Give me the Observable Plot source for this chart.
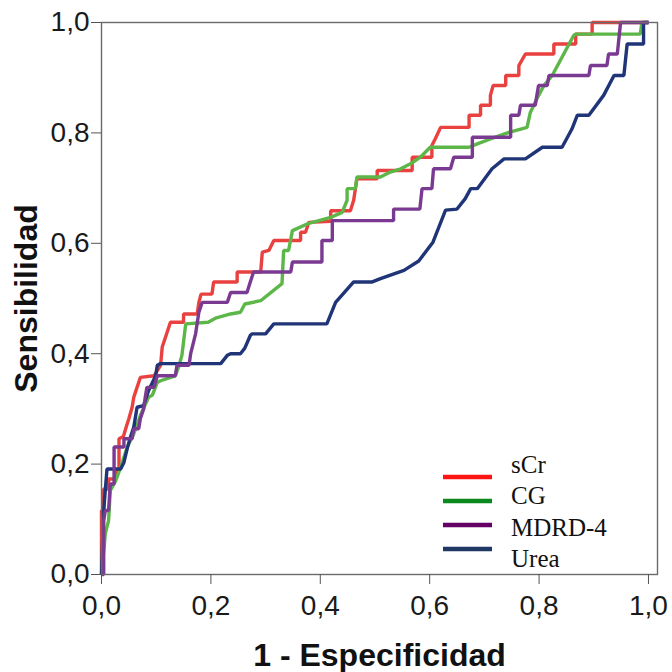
<!DOCTYPE html>
<html>
<head>
<meta charset="utf-8">
<script src="https://cdn.jsdelivr.net/npm/d3@7"></script>
<script src="https://cdn.jsdelivr.net/npm/@observablehq/plot@0.6"></script>
<style>
  html, body { margin: 0; padding: 0; background: #fff; }
  #wrap { position: relative; width: 672px; height: 672px; }
  #legend { position: absolute; left: 0; top: 0; pointer-events: none; }
</style>
</head>
<body>
<div id="wrap"></div>
<script>
// ----- data (1 - especificidad, sensibilidad) -----
const seriesNames = ["sCr", "CG", "MDRD-4", "Urea"];
const curveColors = ["#e8413f", "#5cb648", "#7a3a92", "#1f3577"];
const legendColors = ["#ff1414", "#0a8a1e", "#660066", "#1f3864"];
const xTicks = [0, 0.2, 0.4, 0.6, 0.8, 1.0];
const yTicks = [0, 0.2, 0.4, 0.6, 0.8, 1.0];
const xTitle = "1 - Especificidad";
const yTitle = "Sensibilidad";

const sCr = [[0,0],[0,0.116],[0.004,0.116],[0.004,0.155],[0.013,0.155],[0.013,0.173],[0.026,0.173],[0.026,0.188],[0.032,0.188],[0.032,0.246],[0.040,0.250],[0.046,0.270],[0.050,0.282],[0.056,0.303],[0.059,0.321],[0.065,0.339],[0.071,0.357],[0.096,0.360],[0.108,0.379],[0.111,0.412],[0.120,0.439],[0.126,0.457],[0.150,0.457],[0.150,0.472],[0.175,0.472],[0.178,0.493],[0.182,0.508],[0.202,0.508],[0.205,0.530],[0.248,0.530],[0.248,0.548],[0.291,0.548],[0.294,0.584],[0.306,0.587],[0.315,0.605],[0.364,0.605],[0.364,0.620],[0.373,0.620],[0.379,0.638],[0.419,0.640],[0.419,0.659],[0.455,0.659],[0.461,0.678],[0.467,0.717],[0.504,0.717],[0.504,0.732],[0.568,0.732],[0.568,0.756],[0.604,0.756],[0.604,0.777],[0.610,0.789],[0.620,0.810],[0.672,0.810],[0.672,0.832],[0.693,0.832],[0.693,0.850],[0.711,0.850],[0.711,0.868],[0.716,0.886],[0.739,0.886],[0.739,0.904],[0.763,0.904],[0.763,0.922],[0.775,0.943],[0.827,0.943],[0.827,0.961],[0.867,0.961],[0.867,0.979],[0.897,0.979],[0.897,1.0],[1,1]];

const CG = [[0,0],[0.007,0.074],[0.013,0.098],[0.016,0.152],[0.026,0.170],[0.035,0.194],[0.047,0.231],[0.059,0.255],[0.071,0.288],[0.086,0.321],[0.093,0.325],[0.102,0.348],[0.108,0.351],[0.135,0.360],[0.141,0.376],[0.147,0.397],[0.154,0.454],[0.195,0.457],[0.210,0.465],[0.236,0.472],[0.254,0.475],[0.262,0.490],[0.291,0.496],[0.330,0.527],[0.333,0.587],[0.342,0.587],[0.349,0.623],[0.376,0.635],[0.419,0.647],[0.440,0.656],[0.449,0.678],[0.449,0.699],[0.464,0.699],[0.467,0.720],[0.510,0.720],[0.528,0.729],[0.547,0.735],[0.565,0.744],[0.583,0.756],[0.601,0.774],[0.672,0.774],[0.687,0.780],[0.711,0.789],[0.745,0.801],[0.778,0.810],[0.784,0.837],[0.796,0.862],[0.809,0.886],[0.824,0.904],[0.863,0.976],[0.866,0.979],[0.985,0.979],[0.988,1.0],[1,1]];

const MDRD4 = [[0,0],[0.004,0],[0.004,0.098],[0.007,0.116],[0.013,0.116],[0.016,0.164],[0.023,0.164],[0.023,0.231],[0.041,0.231],[0.041,0.246],[0.056,0.246],[0.059,0.264],[0.068,0.264],[0.071,0.282],[0.077,0.300],[0.080,0.321],[0.083,0.339],[0.096,0.339],[0.102,0.360],[0.135,0.360],[0.138,0.379],[0.160,0.379],[0.163,0.400],[0.172,0.436],[0.178,0.475],[0.184,0.493],[0.230,0.493],[0.236,0.511],[0.266,0.511],[0.272,0.530],[0.278,0.548],[0.346,0.548],[0.349,0.566],[0.403,0.566],[0.403,0.605],[0.422,0.605],[0.422,0.641],[0.534,0.641],[0.534,0.662],[0.582,0.662],[0.586,0.699],[0.604,0.699],[0.607,0.735],[0.638,0.735],[0.644,0.756],[0.678,0.756],[0.678,0.792],[0.748,0.792],[0.748,0.832],[0.763,0.832],[0.766,0.850],[0.793,0.850],[0.796,0.868],[0.799,0.886],[0.815,0.886],[0.818,0.904],[0.891,0.904],[0.894,0.922],[0.924,0.922],[0.927,0.943],[0.943,0.943],[0.949,1.0],[1,1]];

const Urea = [[0,0],[0.004,0.116],[0.010,0.191],[0.035,0.191],[0.041,0.203],[0.047,0.228],[0.053,0.249],[0.059,0.267],[0.065,0.303],[0.077,0.306],[0.086,0.333],[0.099,0.360],[0.102,0.379],[0.108,0.382],[0.218,0.382],[0.230,0.397],[0.236,0.400],[0.254,0.400],[0.262,0.410],[0.272,0.433],[0.275,0.436],[0.300,0.436],[0.315,0.454],[0.412,0.454],[0.428,0.493],[0.461,0.530],[0.495,0.530],[0.510,0.536],[0.553,0.551],[0.580,0.568],[0.606,0.602],[0.629,0.660],[0.650,0.662],[0.665,0.681],[0.675,0.699],[0.687,0.699],[0.714,0.735],[0.736,0.753],[0.775,0.753],[0.806,0.774],[0.842,0.774],[0.860,0.807],[0.870,0.832],[0.891,0.832],[0.918,0.868],[0.937,0.904],[0.955,0.904],[0.961,0.961],[0.991,0.961],[0.991,1.0],[1,1]];

const seriesData = [sCr, CG, MDRD4, Urea];
const drawOrder = [0, 1, 3, 2];

// ----- chart -----
const fmt = d => d.toFixed(1).replace(".", ",");
const lineMarks = drawOrder.map(i =>
  Plot.line(seriesData[i], {x: d => d[0], y: d => d[1], stroke: curveColors[i], strokeWidth: 3.4, strokeLinejoin: "miter", strokeLinecap: "butt"})
);

const chart = Plot.plot({
  width: 672,
  height: 672,
  marginTop: 22,
  marginBottom: 98,
  marginLeft: 101,
  marginRight: 15,
  style: {fontFamily: "'Liberation Sans', Arial, sans-serif", background: "#fff", color: "#1a1a1a"},
  x: {domain: [0, 1.0165]},
  y: {domain: [0, 1]},
  marks: [
    ...lineMarks,
    Plot.frame({stroke: "#6a6a6a", strokeWidth: 1.4}),
    Plot.axisX({ticks: xTicks, tickFormat: fmt, tickSize: 10, tickPadding: 11, fontSize: 28, label: null, stroke: "#555", fill: "#1a1a1a"}),
    Plot.axisY({ticks: yTicks, tickFormat: fmt, tickSize: 10, tickPadding: 2, fontSize: 28, label: null, stroke: "#555", fill: "#1a1a1a"}),
    Plot.text([xTitle], {text: d => d, frameAnchor: "bottom", lineAnchor: "bottom", dy: 91, fontSize: 32, fontWeight: "bold", fill: "#111"}),
    Plot.text([yTitle], {text: d => d, frameAnchor: "left", lineAnchor: "middle", textAnchor: "middle", dx: -75, rotate: -90, fontSize: 32, fontWeight: "bold", fill: "#111"})
  ]
});

const wrap = document.getElementById("wrap");
wrap.appendChild(chart);

// ----- legend (overlay, lower right inside the plot) -----
const leg = d3.select(wrap).append("svg")
  .attr("id", "legend").attr("width", 672).attr("height", 672);
seriesNames.forEach((name, i) => {
  leg.append("line")
    .attr("x1", 443).attr("x2", 492)
    .attr("y1", 477 + i * 24).attr("y2", 477 + i * 24)
    .attr("stroke", legendColors[i]).attr("stroke-width", 4.5);
  leg.append("text")
    .attr("x", 511).attr("y", 473 + i * 31.3)
    .attr("font-family", "'Liberation Serif', 'DejaVu Serif', serif")
    .attr("font-size", 25)
    .attr("fill", "#111")
    .text(name);
});
</script>
</body>
</html>
